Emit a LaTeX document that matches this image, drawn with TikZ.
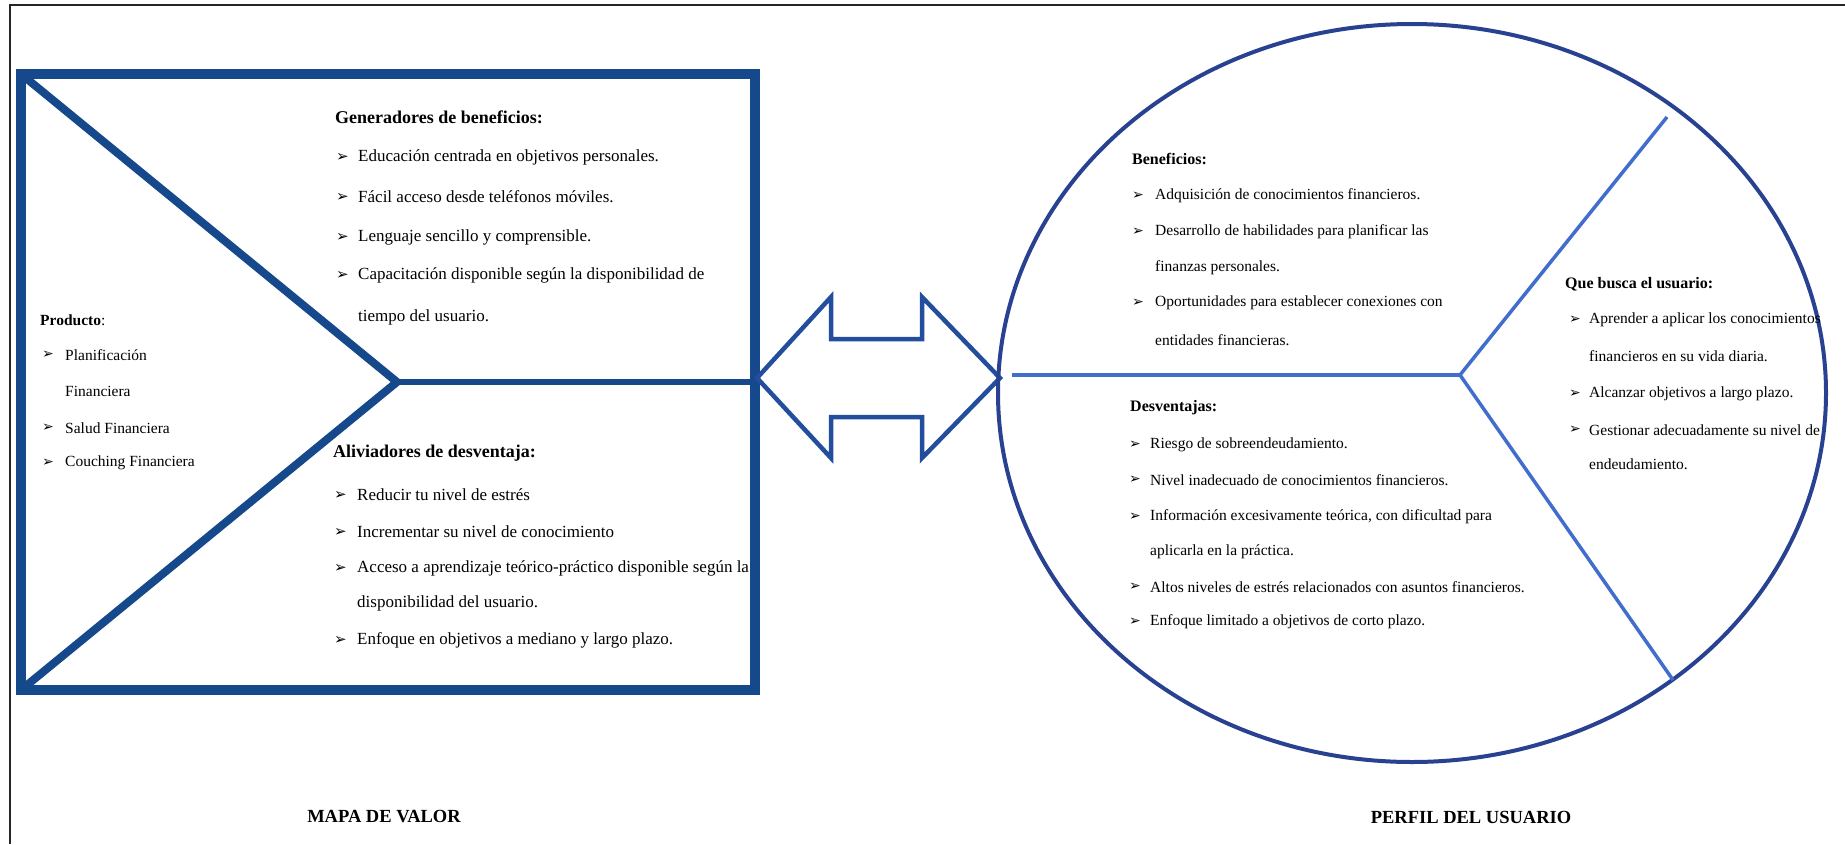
\documentclass[tikz,border=0pt]{standalone}
\usepackage{fontspec}
\setmainfont{Liberation Serif}
\newfontfamily\symfont{DejaVu Sans}
\definecolor{rectblue}{RGB}{22,72,140}
\definecolor{arrblue}{RGB}{35,78,158}
\definecolor{circblue}{RGB}{40,65,145}
\definecolor{spokeblue}{RGB}{65,110,205}
\tikzset{
  tL/.style={anchor=west, inner sep=0pt, font=\fontsize{17}{20}\selectfont},
  hL/.style={anchor=west, inner sep=0pt, font=\fontsize{18}{21}\selectfont\bfseries},
  tR/.style={anchor=west, inner sep=0pt, font=\fontsize{15.5}{19}\selectfont},
  hR/.style={anchor=west, inner sep=0pt, font=\fontsize{16}{19}\selectfont\bfseries},
  bL/.style={anchor=west, inner sep=0pt, font=\symfont\fontsize{15}{17}\selectfont},
  bR/.style={anchor=west, inner sep=0pt, font=\symfont\fontsize{14}{16}\selectfont},
  captxt/.style={anchor=center, inner sep=0pt, font=\fontsize{18.5}{21}\selectfont\bfseries},
}
\begin{document}
\begin{tikzpicture}[x=1pt,y=-1pt]
\useasboundingbox (0,0) rectangle (1845,844);
\fill[white] (0,0) rectangle (1845,844);
% outer frame (top and left)
\draw[line width=2pt, black!85] (10,844) -- (10,5) -- (1845,5);

% value map box
\draw[rectblue, line width=10pt] (21,74) rectangle (755,690);
\coordinate (apex) at (397,382);
\coordinate (rtl) at (21,74);
\coordinate (rbl) at (21,690);
\coordinate (rmr) at (755,382);
\draw[rectblue, line width=8pt, line join=miter] (rtl) -- (apex) -- (rbl);
\draw[rectblue, line width=6pt] (apex) -- (rmr);

% double arrow
\draw[arrblue, line width=4.5pt, line join=miter, fill=white]
  (757,378) -- (831,297) -- (831,339) -- (922,339) -- (922,297) -- (1000,378)
  -- (922,458) -- (922,417) -- (831,417) -- (831,458) -- cycle;

% user profile circle
\draw[circblue, line width=4pt] (1412,393) ellipse [x radius=414pt, y radius=369pt];
\coordinate (J) at (1460,375);
\coordinate (sl) at (1012,375);
\coordinate (su) at (1667,117);
\coordinate (sd) at (1673,680);
\draw[spokeblue, line width=3.5pt] (sl) -- (J);
\draw[spokeblue, line width=3.5pt] (J) -- (su);
\draw[spokeblue, line width=3.5pt] (J) -- (sd);

% Producto
\node[tR] (prodH) at (40,320) {\textbf{Producto}:};
\node[bR] (pb1) at (42,355) {➢};
\node[tR] (p1) at (65,355) {Planificación};
\node[tR] (p1b) at (65,391) {Financiera};
\node[bR] (pb2) at (42,428) {➢};
\node[tR] (p2) at (65,428) {Salud Financiera};
\node[bR] (pb3) at (42,463) {➢};
\node[tR] (p3) at (65,463) {Couching Financiera};

% Generadores de beneficios
\node[hL] (genH) at (335,117) {Generadores de beneficios:};
\node[bL] (gb1) at (336,157) {➢};
\node[tL] (g1) at (358,157) {Educación centrada en objetivos personales.};
\node[bL] (gb2) at (336,197) {➢};
\node[tL] (g2) at (358,197) {Fácil acceso desde teléfonos móviles.};
\node[bL] (gb3) at (336,237) {➢};
\node[tL] (g3) at (358,237) {Lenguaje sencillo y comprensible.};
\node[bL] (gb4) at (336,275) {➢};
\node[tL] (g4) at (358,275) {Capacitación disponible según la disponibilidad de};
\node[tL] (g4b) at (358,317) {tiempo del usuario.};

% Aliviadores de desventaja
\node[hL] (aliH) at (333,453) {Aliviadores de desventaja:};
\node[bL] (ab1) at (334,495) {➢};
\node[tL] (a1) at (357,495) {Reducir tu nivel de estrés};
\node[bL] (ab2) at (334,532) {➢};
\node[tL] (a2) at (357,532) {Incrementar su nivel de conocimiento};
\node[bL] (ab3) at (334,568) {➢};
\node[tL] (a3) at (357,568) {Acceso a aprendizaje teórico-práctico disponible según la};
\node[tL] (a3b) at (357,603) {disponibilidad del usuario.};
\node[bL] (ab4) at (334,640) {➢};
\node[tL] (a4) at (357,640) {Enfoque en objetivos a mediano y largo plazo.};

% Beneficios
\node[hR] (benH) at (1132,159) {Beneficios:};
\node[bR] (bb1) at (1132,196) {➢};
\node[tR] (b1) at (1155,196) {Adquisición de conocimientos financieros.};
\node[bR] (bb2) at (1132,232) {➢};
\node[tR] (b2) at (1155,232) {Desarrollo de habilidades para planificar las};
\node[tR] (b2b) at (1155,268) {finanzas personales.};
\node[bR] (bb3) at (1132,303) {➢};
\node[tR] (b3) at (1155,303) {Oportunidades para establecer conexiones con};
\node[tR] (b3b) at (1155,340) {entidades financieras.};

% Desventajas
\node[hR] (desH) at (1130,408) {Desventajas:};
\node[bR] (db1) at (1129,445) {➢};
\node[tR] (d1) at (1150,445) {Riesgo de sobreendeudamiento.};
\node[bR] (db2) at (1129,480) {➢};
\node[tR] (d2) at (1150,480) {Nivel inadecuado de conocimientos financieros.};
\node[bR] (db3) at (1129,517) {➢};
\node[tR] (d3) at (1150,517) {Información excesivamente teórica, con dificultad para};
\node[tR] (d3b) at (1150,552) {aplicarla en la práctica.};
\node[bR] (db4) at (1129,587) {➢};
\node[tR] (d4) at (1150,587) {Altos niveles de estrés relacionados con asuntos financieros.};
\node[bR] (db5) at (1129,622) {➢};
\node[tR] (d5) at (1150,622) {Enfoque limitado a objetivos de corto plazo.};

% Que busca el usuario
\node[hR] (queH) at (1565,284) {Que busca el usuario:};
\node[bR] (qb1) at (1569,320) {➢};
\node[tR] (q1) at (1589,320) {Aprender a aplicar los conocimientos};
\node[tR] (q1b) at (1589,356) {financieros en su vida diaria.};
\node[bR] (qb2) at (1569,394) {➢};
\node[tR] (q2) at (1589,394) {Alcanzar objetivos a largo plazo.};
\node[bR] (qb3) at (1569,430) {➢};
\node[tR] (q3) at (1589,430) {Gestionar adecuadamente su nivel de};
\node[tR] (q3b) at (1589,464) {endeudamiento.};

% captions
\node[captxt] (capL) at (384,817) {MAPA DE VALOR};
\node[captxt] (capR) at (1471,817) {PERFIL DEL USUARIO};
\end{tikzpicture}
\end{document}
